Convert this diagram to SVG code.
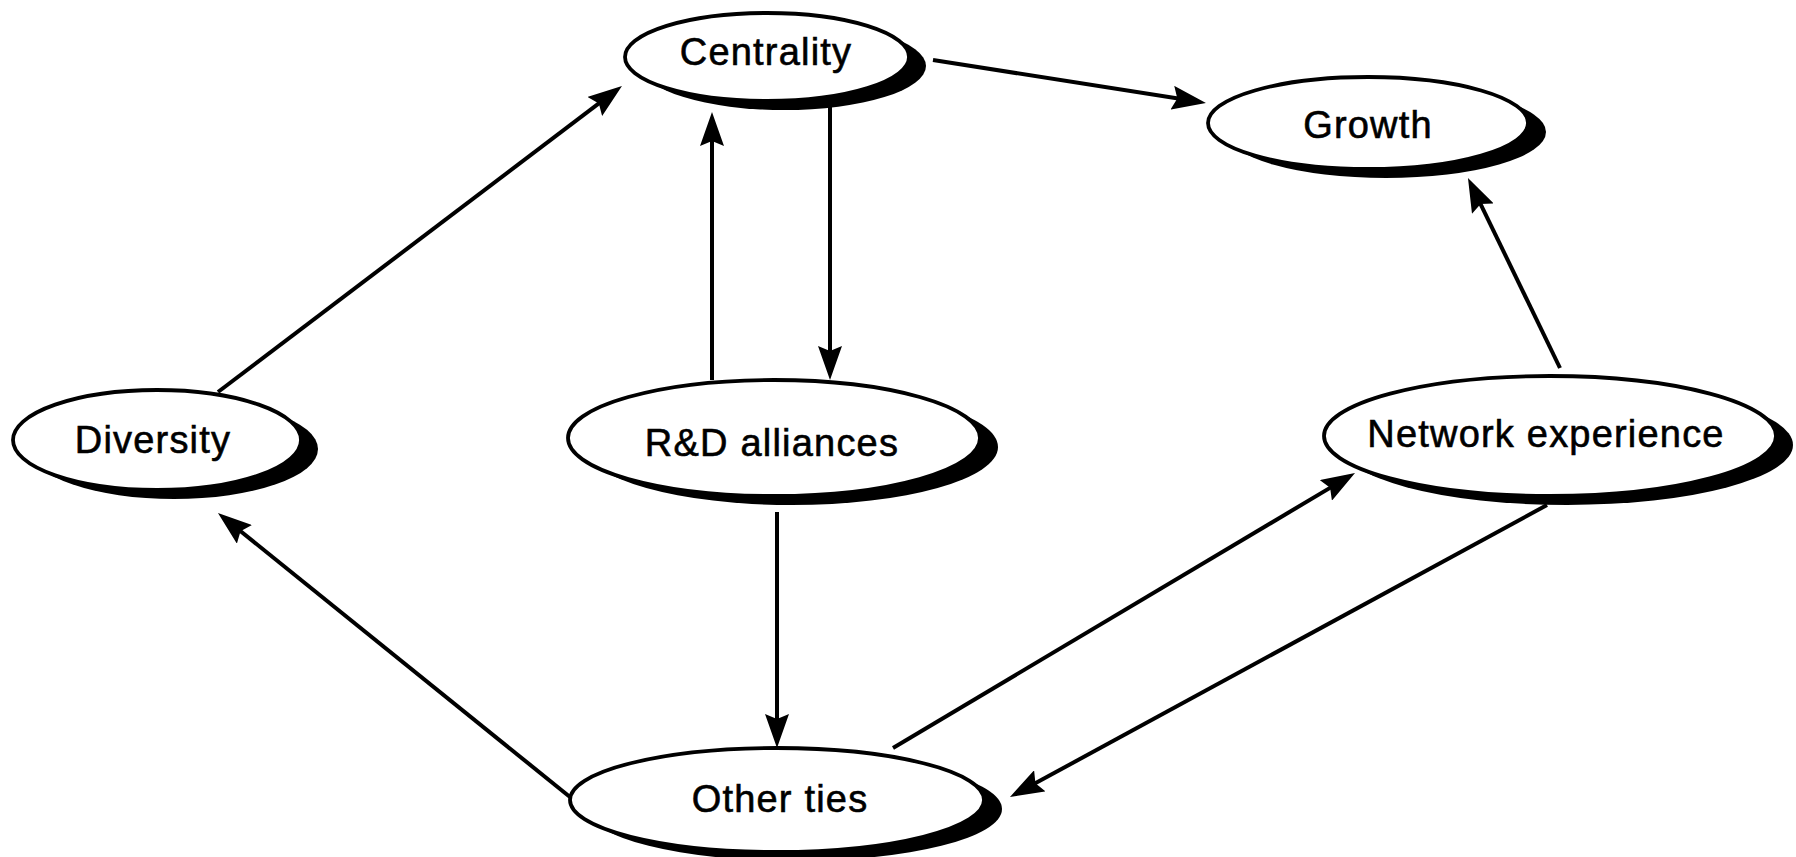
<svg xmlns="http://www.w3.org/2000/svg" width="1796" height="857" viewBox="0 0 1796 857">
<defs>
<style>
.sh{fill:#000;}
.el{fill:#fff;stroke:#000;stroke-width:3.8;}
.lb{font-family:"Liberation Sans",Arial,sans-serif;font-size:38px;letter-spacing:1.2px;fill:#000;stroke:#000;stroke-width:0.6px;text-anchor:middle;}
.cn line{stroke:#000;stroke-width:4;marker-end:url(#ah);}
</style>
<marker id="ah" markerUnits="userSpaceOnUse" markerWidth="34" markerHeight="24" refX="22" refY="12" orient="auto">
<path d="M0,0 L34,12 L0,24 L5,12 z" fill="#000"/>
</marker>
</defs>
<rect width="1796" height="857" fill="#fff"/>
<g id="connectors" class="cn">
<line x1="218" y1="392" x2="612.4" y2="93.2"/>
<line x1="933" y1="60" x2="1194.1" y2="101.1"/>
<line x1="712" y1="380" x2="712" y2="124"/>
<line x1="830" y1="103" x2="830" y2="368"/>
<line x1="777" y1="512" x2="777" y2="736"/>
<line x1="570" y1="797" x2="227.3" y2="520.5"/>
<line x1="893" y1="748" x2="1344.7" y2="479.1"/>
<line x1="1547" y1="505" x2="1020.5" y2="791.3"/>
<line x1="1560" y1="368" x2="1473.2" y2="188.8"/>
</g>
<g id="centrality">
<ellipse class="sh" cx="784" cy="66" rx="142" ry="44"/>
<ellipse class="el" cx="767" cy="57" rx="142" ry="44"/>
<text class="lb" x="766" y="65">Centrality</text>
</g>
<g id="growth">
<ellipse class="sh" cx="1386" cy="132" rx="160" ry="46"/>
<ellipse class="el" cx="1368" cy="123" rx="160" ry="46"/>
<text class="lb" x="1368" y="138">Growth</text>
</g>
<g id="diversity">
<ellipse class="sh" cx="174" cy="449" rx="144" ry="50"/>
<ellipse class="el" cx="157" cy="440" rx="144" ry="50"/>
<text class="lb" x="153" y="453">Diversity</text>
</g>
<g id="rd-alliances">
<ellipse class="sh" cx="792" cy="447" rx="206" ry="58"/>
<ellipse class="el" cx="774" cy="438" rx="206" ry="58"/>
<text class="lb" x="772" y="456">R&amp;D alliances</text>
</g>
<g id="network-experience">
<ellipse class="sh" cx="1567" cy="445" rx="226" ry="60"/>
<ellipse class="el" cx="1550" cy="436" rx="226" ry="60"/>
<text class="lb" x="1546" y="447">Network experience</text>
</g>
<g id="other-ties">
<ellipse class="sh" cx="795" cy="809" rx="207" ry="52"/>
<ellipse class="el" cx="777" cy="800" rx="207" ry="52"/>
<text class="lb" x="780" y="812">Other ties</text>
</g>
</svg>
